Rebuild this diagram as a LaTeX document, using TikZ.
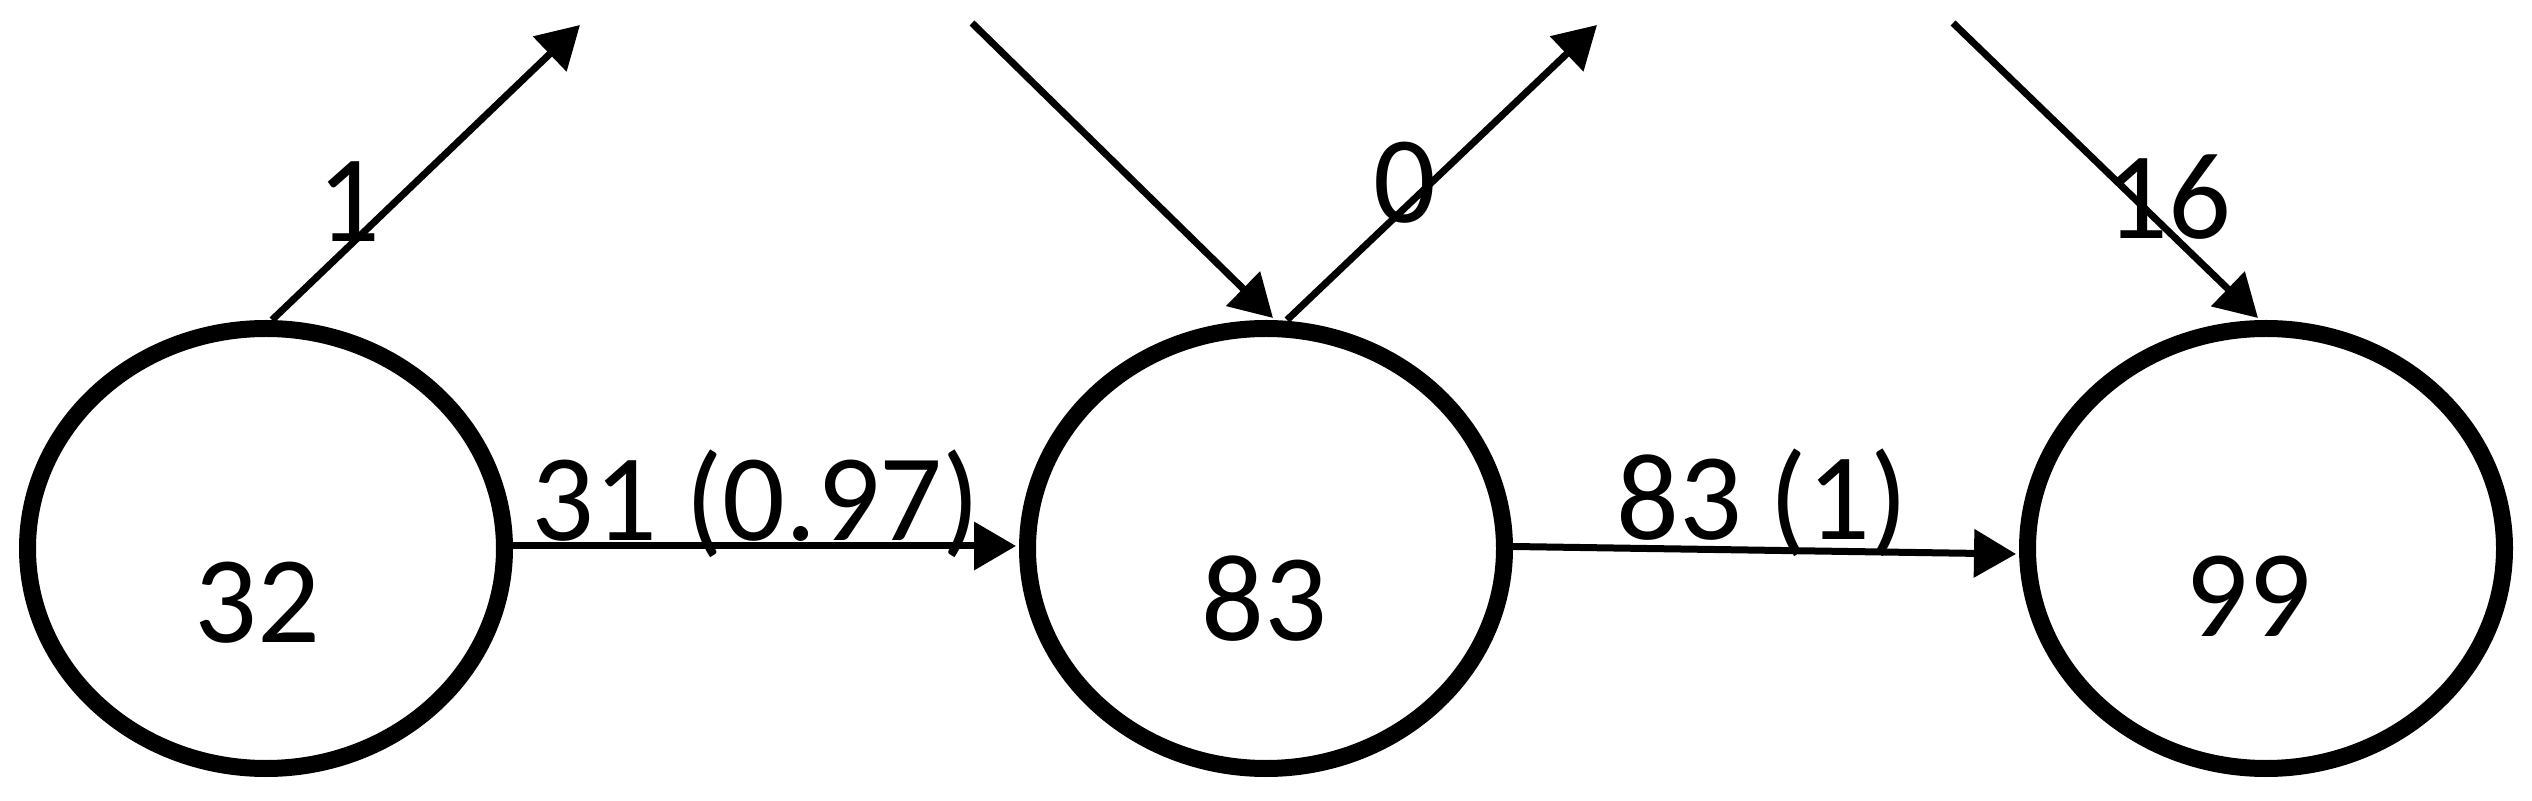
\documentclass[tikz,border=0pt]{standalone}
\usepackage{fontspec}
\setmainfont{Carlito}
\usetikzlibrary{shapes.geometric,arrows.meta}
\tikzset{
  state/.style={draw, ellipse, line width=8.5pt, outer sep=4.25pt, inner sep=0pt,
    minimum width=238.5pt, minimum height=220pt},
  txt/.style={inner sep=0pt, anchor=base, font=\fontsize{62pt}{74pt}\selectfont},
  conn/.style={line width=3.5pt, -{Triangle[length=21pt,width=23.5pt]}}
}
\begin{document}
\begin{tikzpicture}[x=0.5pt,y=-0.5pt]
\useasboundingbox (0,0) rectangle (2532,801);
\node[state] (n1) at (266,548.5) {};
\node[state] (n2) at (1266,548.5) {};
\node[state] (n3) at (2266,548.5) {};
\node[txt] (t1) at (257,642) {32};
\node[txt] (t2) at (1264,640) {83};
\node[txt] (t3) at (2248,637) {99};
\coordinate (a1) at (580,25);
\coordinate (a2) at (972,23);
\coordinate (a3) at (1597,25);
\coordinate (a4) at (1953,23);
\draw[conn] ([xshift=3pt]n1.north) -- (a1);
\draw[conn] (a2) -- ([xshift=3.5pt,yshift=1pt]n2.north);
\draw[conn] ([xshift=10.5pt]n2.north) -- (a3);
\draw[conn] (a4) -- ([xshift=-4pt,yshift=1pt]n3.north);
\draw[conn] ([yshift=1.25pt]n1.east) -- ([xshift=-1.5pt,yshift=1.25pt]n2.west);
\draw[conn] ([yshift=1pt]n2.east) -- ([xshift=-1.5pt,yshift=-2.75pt]n3.west);
\node[txt] (l1) at (349,242) {1};
\node[txt] (l2) at (1405,223) {0};
\node[txt] (l3) at (2168,239) {16};
\node[txt] (l4) at (756,541) {31 (0.97)};
\node[txt] (l5) at (1762,540) {83 (1)};
\end{tikzpicture}
\end{document}
